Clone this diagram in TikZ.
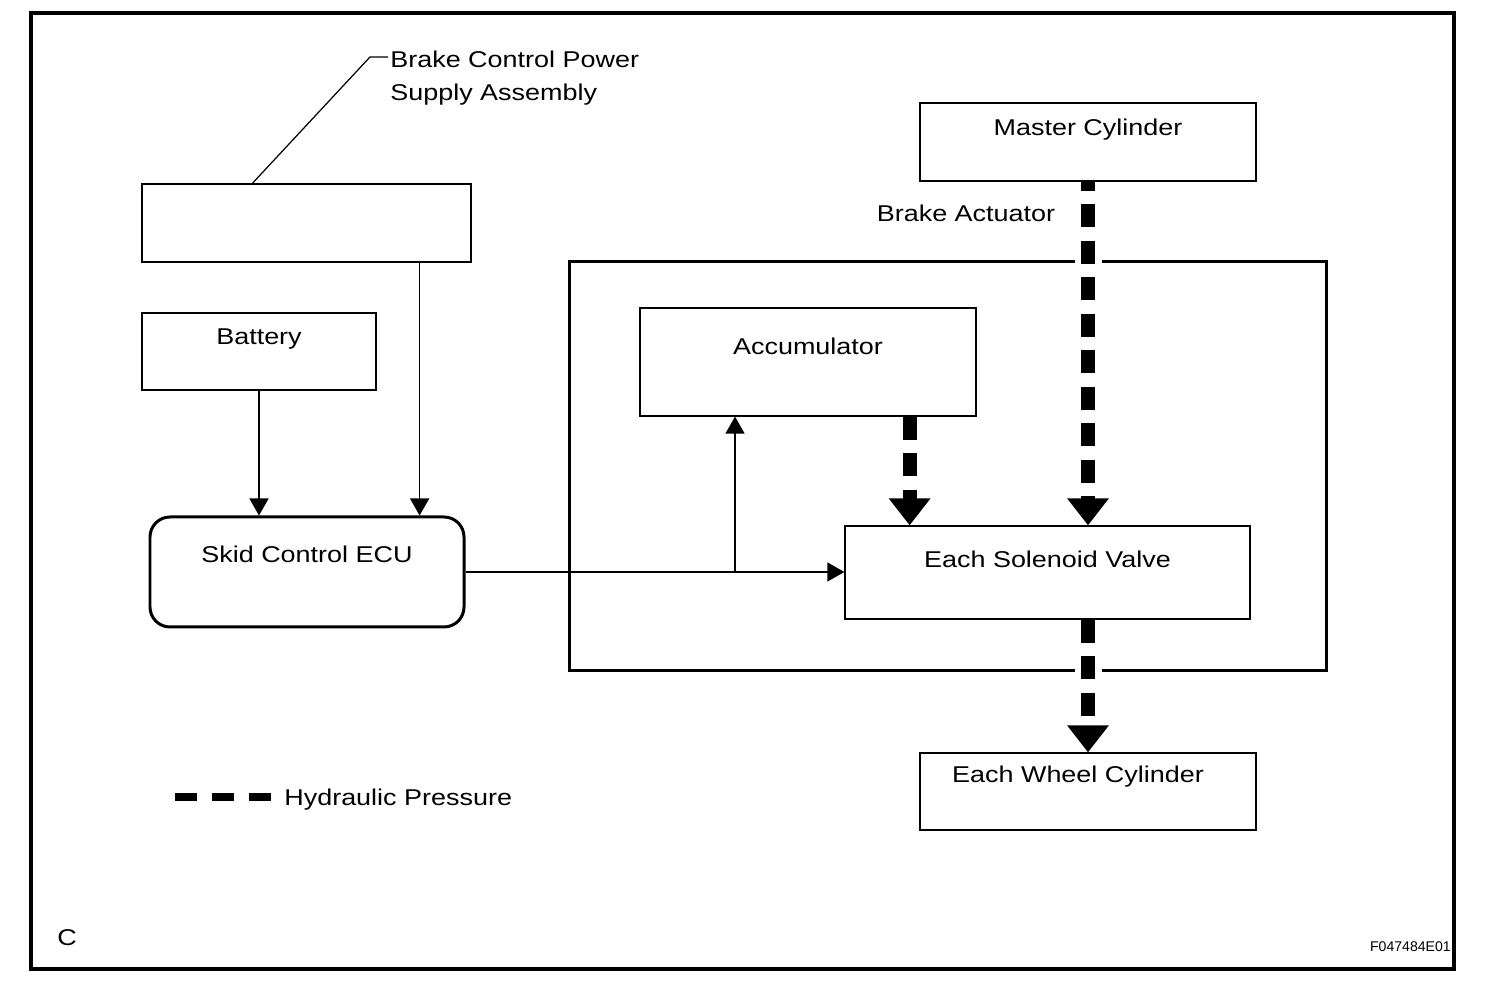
\documentclass[tikz,border=0pt]{standalone}
\usepackage{fontspec}
\setmainfont{Liberation Sans}[FakeStretch=1.18]
\newfontfamily\codefont{Liberation Sans}
\usetikzlibrary{calc}
\usetikzlibrary{positioning,arrows.meta}

\begin{document}
\begin{tikzpicture}[box/.style={rectangle, draw, line width=0.7pt, inner sep=0pt},
        heavy/.style={line width=1.7pt},
        txt/.style={inner sep=0pt, anchor=base, font=\fontsize{13}{18.8}\selectfont},
        arr/.style={-{Triangle[length=0.34cm,width=0.38cm]}, line width=0.7pt},
        hyd/.style={-{Triangle[length=0.54cm,width=0.8cm]}, line width=0.28cm, dash pattern=on 0.46cm off 0.27cm},
        hydkey/.style={line width=0.17cm, dash pattern=on 0.44cm off 0.3cm},
        whitegap/.style={white, line width=0.54cm}]
        \useasboundingbox (0,0) rectangle (30.08,19.64);
        %% outer frame
        \draw[line width=1.8pt] (0.62,0.26) rectangle (29.08,19.38);

        %% Left side: power supply, battery, ECU
        \node[box, minimum width=6.58cm, minimum height=1.56cm] (pwr) at (6.13,15.18) {};
        \node[box, minimum width=4.68cm, minimum height=1.54cm] (bat) at (5.18,12.61) {};
        \node[box, heavy, rounded corners=0.4cm, minimum width=6.28cm, minimum height=2.2cm] (ecu) at (6.14,8.2) {};

        \node[txt] (batT) at ($(bat.north)+(0,-0.64)$) {Battery};
        \node[txt] (ecuT) at ($(ecu.north)+(0,-0.94)$) {Skid Control ECU};

        \coordinate (ldr) at (7.4,18.5);
        \coordinate (ldrend) at (7.76,18.5);
        \node[txt, anchor=base west, align=left] (pwrT) at (7.8,17.62) {Brake Control Power\\Supply Assembly};
        \draw[line width=0.7pt] ($(pwr.north west)+(2.22,0)$) -- (ldr) -- (ldrend);

        %% Brake actuator
        \node[box, heavy, minimum width=15.14cm, minimum height=8.18cm] (act) at (18.95,10.31) {};
        \node[txt] (actT) at (19.32,15.2) {Brake Actuator};

        \node[box, minimum width=6.72cm, minimum height=1.56cm] (mc) at (21.76,16.8) {};
        \node[box, minimum width=6.72cm, minimum height=2.16cm] (acc) at (16.16,12.4) {};
        \node[box, minimum width=8.1cm, minimum height=1.86cm] (sv) at (20.95,8.19) {};
        \node[box, minimum width=6.72cm, minimum height=1.54cm] (wc) at (21.76,3.81) {};

        \node[txt] (mcT) at ($(mc.north)+(0,-0.66)$) {Master Cylinder};
        \node[txt] (accT) at ($(acc.north)+(0,-0.94)$) {Accumulator};
        \node[txt] (svT) at ($(sv.north)+(0,-0.84)$) {Each Solenoid Valve};
        \node[txt] (wcT) at ($(wc.north)+(-0.2,-0.6)$) {Each Wheel Cylinder};

        %% Signal lines
        \draw[arr] (bat.south) -- (bat.south |- ecu.north);
        \draw[arr] ($(pwr.south east)+(-1.04,0)$) coordinate (pwrout) -- (pwrout |- ecu.north);
        \draw[arr] (ecu.east) -- (ecu.east -| sv.west);
        \coordinate (br) at (14.7,8.2);
        \draw[arr] (br) -- (br |- acc.south);

        %% Hydraulic pressure
        \draw[whitegap] (mc.south) -- (sv.north -| mc.south);
        \draw[whitegap] (sv.south -| wc.north) -- (wc.north);
        \draw[hyd, dash phase=0.28cm] (mc.south) -- (sv.north -| mc.south);
        \draw[hyd] ($(acc.south east)+(-1.34,0)$) coordinate (accout) -- (accout |- sv.north);
        \draw[hyd] (sv.south -| wc.north) -- (wc.north);

        %% Legend
        \coordinate (key1) at (3.5,3.7);
        \coordinate (key2) at (5.42,3.7);
        \draw[hydkey] (key1) -- (key2);
        \node[txt, anchor=base west] (keyT) at (5.68,3.52) {Hydraulic Pressure};

        \node[txt] (figC) at (1.34,0.72) {C};
        \node[inner sep=0pt, anchor=base east, font=\codefont\fontsize{8}{10}\selectfont] (figId) at (29.02,0.6) {F047484E01};
\end{tikzpicture}
\end{document}
